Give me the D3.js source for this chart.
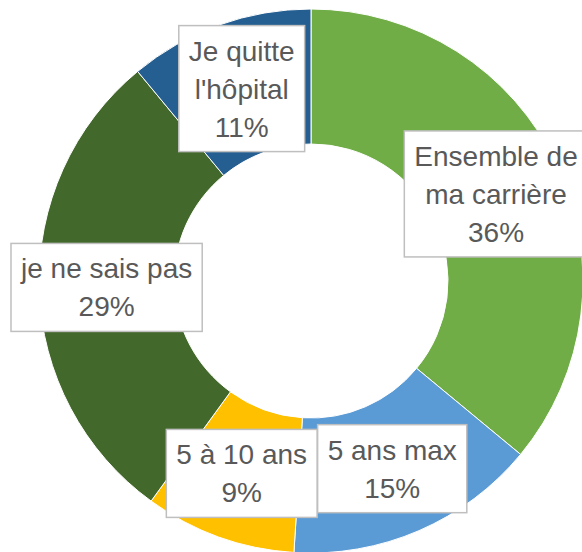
<!DOCTYPE html>
<html>
<head>
<meta charset="utf-8">
<script src="https://cdn.jsdelivr.net/npm/d3@7"></script>
<style>
  body { margin: 0; background: #fff; }
  .lbl { font-family: "Liberation Sans", Arial, sans-serif; font-size: 28px; fill: #595959; }
</style>
</head>
<body>
<div id="chart"></div>
<script>
// data, clockwise from 12 o'clock
var categories = ["Ensemble de\nma carrière", "5 ans max", "5 à 10 ans", "je ne sais pas", "Je quitte\nl'hôpital"];
var values = [36, 15, 9, 29, 11];
var colors = ["#70AD47", "#5B9BD5", "#FFC000", "#43682B", "#255E91"];

var width = 582, height = 552;
var cx = 311, cy = 281;
var outerR = 272, innerR = 137;

var svg = d3.select("#chart").append("svg")
    .attr("width", width)
    .attr("height", height);

var data = categories.map(function(c, i) { return {label: c, value: values[i], color: colors[i]}; });

var pie = d3.pie()
    .sort(null)
    .value(function(d) { return d.value; });

var arc = d3.arc()
    .outerRadius(outerR)
    .innerRadius(innerR);

var g = svg.append("g")
    .attr("transform", "translate(" + cx + "," + cy + ")");

g.selectAll(".slice")
    .data(pie(data))
    .enter().append("path")
    .attr("class", "slice")
    .attr("d", arc)
    .attr("fill", function(d) { return d.data.color; })
    .attr("stroke", "#fff")
    .attr("stroke-width", 1);

// labels in boxes at slice centroids
var lineH = 38;
var labels = g.selectAll(".label")
    .data(pie(data))
    .enter().append("g")
    .attr("class", "label")
    .attr("transform", function(d) { return "translate(" + arc.centroid(d) + ")"; });

labels.each(function(d) {
    var sel = d3.select(this);
    var lines = d.data.label.split("\n").concat([d.data.value + "%"]);
    var rect = sel.append("rect");
    var n = lines.length;
    var maxW = 0;
    lines.forEach(function(t, i) {
        var txt = sel.append("text")
            .attr("class", "lbl")
            .attr("text-anchor", "middle")
            .attr("x", 0)
            .attr("y", (i - (n - 1) / 2) * lineH + 10)
            .text(t);
        maxW = Math.max(maxW, txt.node().getComputedTextLength());
    });
    var w = maxW + 20, h = n * lineH + 12;
    rect.attr("x", -w / 2)
        .attr("y", -h / 2)
        .attr("width", w)
        .attr("height", h)
        .attr("fill", "#fff")
        .attr("stroke", "#BFBFBF")
        .attr("stroke-width", 1.5);
});
</script>
</body>
</html>
